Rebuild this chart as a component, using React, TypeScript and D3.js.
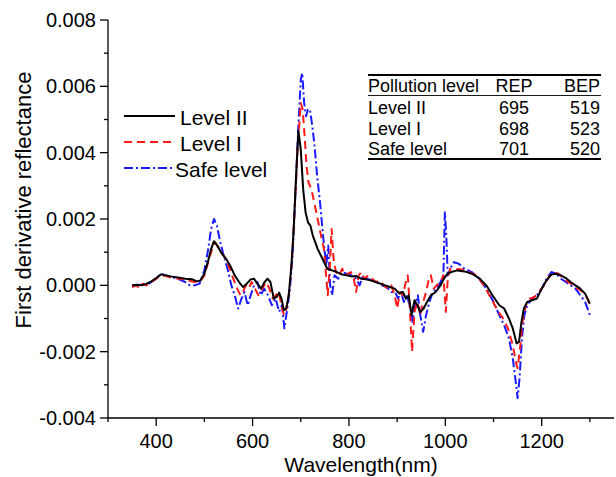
import React from "react";
import * as d3 from "d3";

type Pt = [number, number];

const levelII: Pt[] = [
  [350, 0.0], [360, 0.00002], [370, 0.0], [380, 0.00005], [390, 0.00012], [400, 0.00022], [410, 0.00033], [420, 0.0003],
  [430, 0.00027], [445, 0.00024], [460, 0.0002], [475, 0.00018], [485, 0.00012], [492, 0.00015], [500, 0.00035], [508, 0.00075],
  [514, 0.0011], [520, 0.00133], [527, 0.0012], [535, 0.00098], [545, 0.0008], [555, 0.00055], [563, 0.0003], [572, 0.0001],
  [580, -0.00005], [588, 0.00005], [596, 0.00018], [603, 0.0002], [610, 0.00005], [618, -0.0001], [624, 0.00008], [631, 0.0002],
  [637, 0.0001], [644, -0.0004], [650, -0.00035], [655, -0.00022], [660, -0.0004], [665, -0.00075], [670, -0.0007], [675, -0.0003],
  [680, 0.0005], [685, 0.0016], [690, 0.0032], [695, 0.00467], [700, 0.0041], [705, 0.0029], [710, 0.0022], [715, 0.0019],
  [720, 0.0018], [725, 0.0015], [735, 0.0011], [745, 0.0008], [755, 0.0005], [765, 0.00045], [775, 0.0004], [785, 0.00033],
  [795, 0.0003], [805, 0.00027], [815, 0.00028], [825, 0.0002], [835, 0.00018], [845, 0.00015], [855, 0.0001], [865, 0.00005],
  [875, 0.0], [885, -0.00005], [895, -0.0001], [905, -0.00025], [912, -0.0002], [918, -0.0004], [924, -0.0003], [930, -0.0009],
  [936, -0.00045], [942, -0.0006], [948, -0.0008], [955, -0.0007], [962, -0.0005], [970, -0.0003], [980, -0.0002], [990, 0.0],
  [997, 0.0002], [1005, 0.00035], [1012, 0.0004], [1025, 0.00045], [1040, 0.00042], [1055, 0.00035], [1070, 0.00022], [1085, 0.0],
  [1100, -0.00035], [1112, -0.0006], [1122, -0.0007], [1132, -0.001], [1140, -0.0013], [1148, -0.00175], [1153, -0.0017], [1158, -0.0011],
  [1163, -0.0007], [1170, -0.0005], [1180, -0.00045], [1190, -0.0004], [1200, -0.0001], [1210, 0.00015], [1220, 0.00033], [1230, 0.00035],
  [1240, 0.0003], [1250, 0.00022], [1260, 0.0001], [1270, 0.0], [1280, -0.0001], [1290, -0.00025], [1300, -0.00055],
];

const levelI: Pt[] = [
  [350, -0.00005], [360, 0.0], [365, -0.0001], [372, 0.00005], [380, 0.0], [390, 0.0001], [400, 0.0002], [410, 0.0003],
  [420, 0.00028], [435, 0.00022], [450, 0.0002], [465, 0.00015], [480, 0.0001], [490, 0.0001], [500, 0.0003], [510, 0.0008],
  [518, 0.0012], [523, 0.00128], [530, 0.0011], [540, 0.0009], [550, 0.0006], [560, 0.0002], [568, -0.0001], [575, -0.0003],
  [580, -0.0002], [586, 0.0], [592, -0.0001], [598, 0.0001], [605, -0.0001], [612, -0.0003], [620, -0.0001], [628, 0.0001],
  [635, -0.0001], [642, -0.0004], [648, -0.0003], [654, -0.0002], [660, -0.0006], [665, -0.0009], [670, -0.0007], [676, -0.0002],
  [682, 0.0008], [688, 0.0025], [694, 0.0042], [700, 0.0055], [704, 0.0053], [708, 0.0045], [712, 0.0036], [716, 0.0031],
  [722, 0.0029], [728, 0.0025], [735, 0.002], [742, 0.0015], [748, 0.0011], [752, 0.0004], [756, -0.0003], [760, 0.0005],
  [764, 0.0017], [768, 0.0008], [773, 0.0004], [780, 0.0003], [786, 0.0005], [792, 0.0003], [798, 0.00035], [804, 0.0004],
  [810, 0.0002], [815, -0.0002], [820, 0.0003], [826, 0.0004], [832, 0.0002], [840, 0.0003], [848, 0.0002], [856, 0.0001],
  [864, 0.00015], [872, 0.0], [880, -0.0001], [888, 0.0], [895, -0.0003], [900, -0.0007], [906, -0.0002], [912, -0.0003],
  [918, 0.0001], [922, 0.0003], [926, -0.0006], [931, -0.002], [936, -0.0008], [942, -0.0005], [948, -0.0009], [954, -0.0005],
  [960, -0.0002], [966, 0.0002], [970, 0.0003], [976, -0.0001], [982, 0.0], [990, 0.0001], [996, 0.0003], [1001, -0.0008],
  [1005, 0.0002], [1010, 0.0005], [1020, 0.0005], [1035, 0.00048], [1050, 0.0004], [1065, 0.0003], [1080, 0.0], [1095, -0.0004],
  [1110, -0.0008], [1120, -0.001], [1130, -0.0013], [1140, -0.0018], [1146, -0.0023], [1150, -0.0025], [1155, -0.0019], [1160, -0.0011],
  [1167, -0.0006], [1175, -0.0004], [1185, -0.00035], [1195, -0.0002], [1205, 0.0], [1215, 0.00025], [1225, 0.0004], [1235, 0.00035],
  [1245, 0.0002], [1255, 0.0001], [1265, 0.0], [1275, -0.0001], [1285, -0.0002], [1295, -0.0004], [1300, -0.0006],
];

const safeLevel: Pt[] = [
  [350, -0.00003], [360, 0.0], [370, 0.00002], [380, 0.0], [390, 0.0001], [400, 0.0002], [410, 0.00035], [420, 0.0003],
  [430, 0.00025], [445, 0.0002], [460, 0.0001], [470, 0.0], [480, 0.0], [490, 0.00005], [500, 0.00045], [508, 0.0011],
  [514, 0.0017], [520, 0.002], [526, 0.0018], [533, 0.0013], [540, 0.0009], [548, 0.0005], [556, 0.0], [563, -0.0003],
  [570, -0.0007], [577, -0.0004], [583, -0.0002], [590, -0.0006], [596, -0.0003], [603, 0.0], [610, 0.0001], [617, -0.0003],
  [624, -0.0001], [632, -0.0003], [640, -0.0006], [648, -0.0004], [655, -0.0008], [661, -0.0006], [666, -0.0013], [671, -0.0008],
  [677, -0.0002], [683, 0.0009], [689, 0.0028], [695, 0.0048], [700, 0.0062], [703, 0.0064], [707, 0.0055], [711, 0.0051],
  [715, 0.0053], [719, 0.0053], [723, 0.0049], [728, 0.0043], [734, 0.0033], [740, 0.0025], [745, 0.0017], [749, 0.0011],
  [753, 0.0006], [757, 0.0012], [761, 0.0], [765, -0.0003], [770, 0.0003], [778, 0.0002], [786, 0.0004], [795, 0.00035],
  [805, 0.0003], [815, 0.0002], [822, 0.0], [828, 0.00025], [838, 0.0002], [848, 0.00015], [858, 0.0001], [868, 0.0],
  [878, -0.00005], [888, -0.0002], [896, -0.0002], [902, -0.0004], [908, -0.0002], [914, -0.0005], [920, -0.0003], [926, -0.0006],
  [932, -0.0011], [937, -0.0006], [943, -0.0003], [948, -0.0009], [954, -0.0014], [960, -0.0009], [967, -0.0005], [974, -0.0002],
  [982, -0.0001], [990, 0.0001], [996, 0.0003], [999, 0.0022], [1002, 0.0015], [1005, 0.0003], [1010, 0.0005], [1018, 0.0007],
  [1028, 0.00065], [1040, 0.0005], [1055, 0.0004], [1070, 0.0002], [1085, -0.0001], [1100, -0.0005], [1112, -0.0009], [1122, -0.0012],
  [1132, -0.0016], [1140, -0.0022], [1146, -0.0029], [1150, -0.0034], [1154, -0.0028], [1159, -0.0016], [1164, -0.0009], [1170, -0.0006],
  [1180, -0.0004], [1190, -0.0003], [1200, -0.0001], [1210, 0.0002], [1220, 0.0004], [1230, 0.00035], [1240, 0.0002], [1250, 0.0001],
  [1260, 0.0], [1270, -0.0001], [1280, -0.0003], [1290, -0.0005], [1300, -0.0009],
];

const xMajorTicks = [400, 600, 800, 1000, 1200];
const xMinorTicks = [300, 500, 700, 900, 1100, 1300];
const yMajorTicks = [-0.004, -0.002, 0, 0.002, 0.004, 0.006, 0.008];
const yMinorTicks = [-0.003, -0.001, 0.001, 0.003, 0.005, 0.007];

const seriesNames = ["Level II", "Level I", "Safe level"];
const tableHeader = ["Pollution level", "REP", "BEP"];
const tableLevels = ["Level II", "Level I", "Safe level"];
const tableREP = [695, 698, 701];
const tableBEP = [519, 523, 520];

const FONT = "'Liberation Sans', Arial, Helvetica, sans-serif";

export default function App() {
  const W = 616, H = 477;
  const x = d3.scaleLinear().domain([300, 1350]).range([108, 614]);
  const y = d3.scaleLinear().domain([-0.004, 0.008]).range([418, 20]);
  const line = d3.line<Pt>().x((d) => x(d[0])).y((d) => y(d[1]));

  const styles = [
    { stroke: "#000000", dash: undefined as string | undefined, width: 2 },
    { stroke: "#ff1a1a", dash: "8,5", width: 2 },
    { stroke: "#1a1aff", dash: "9,3,2,3", width: 2 },
  ];
  const data = [levelII, levelI, safeLevel];
  const x0 = x.range()[0];
  const yb = y.range()[0];
  const legendBase = [125, 151, 177];

  return (
    <svg width={W} height={H} style={{ position: "absolute", left: 0, top: 0, background: "#fff" }} fontFamily={FONT}>
      <rect width={W} height={H} fill="#fff" />
      {[2, 1, 0].map((i) => (
        <path key={i} d={line(data[i]) || ""} fill="none" stroke={styles[i].stroke} strokeWidth={styles[i].width}
          strokeDasharray={styles[i].dash} strokeLinejoin="round" />
      ))}
      {/* axes */}
      <line x1={x0} x2={x0} y1={y(0.008)} y2={yb} stroke="#000" strokeWidth={1.3} />
      <line x1={x0} x2={x.range()[1]} y1={yb} y2={yb} stroke="#000" strokeWidth={1.3} />
      {yMajorTicks.map((t) => (
        <g key={"ym" + t}>
          <line x1={x0 - 8} x2={x0} y1={y(t)} y2={y(t)} stroke="#000" strokeWidth={1.3} />
          <text x={x0 - 12} y={y(t)} dy="0.35em" textAnchor="end" fontSize={20}>{d3.format(".3f")(t).replace("−", "-")}</text>
        </g>
      ))}
      {yMinorTicks.map((t) => (
        <line key={"yn" + t} x1={x0 - 4} x2={x0} y1={y(t)} y2={y(t)} stroke="#000" strokeWidth={1.3} />
      ))}
      {xMajorTicks.map((t) => (
        <g key={"xm" + t}>
          <line x1={x(t)} x2={x(t)} y1={yb} y2={yb + 8} stroke="#000" strokeWidth={1.3} />
          <text x={x(t)} y={yb + 30} textAnchor="middle" fontSize={20}>{t}</text>
        </g>
      ))}
      {xMinorTicks.map((t) => (
        <line key={"xn" + t} x1={x(t)} x2={x(t)} y1={yb} y2={yb + 4} stroke="#000" strokeWidth={1.3} />
      ))}
      <text x={361} y={472} textAnchor="middle" fontSize={21}>Wavelength(nm)</text>
      <text transform={`translate(31,200) rotate(-90)`} textAnchor="middle" fontSize={22}>First derivative reflectance</text>

      {/* legend */}
      {seriesNames.map((n, i) => (
        <g key={n} transform={`translate(0,${legendBase[i]})`}>
          <line x1={124} x2={i === 2 ? 174 : 175} y1={-9} y2={-9} stroke={styles[i].stroke} strokeWidth={2} strokeDasharray={styles[i].dash} />
          <text x={i === 2 ? 175 : 180} y={0} fontSize={21}>{n}</text>
        </g>
      ))}

      {/* table */}
      <g fontSize={18}>
        <line x1={368} x2={601} y1={75} y2={75} stroke="#000" strokeWidth={1.8} />
        <text x={368} y={92}>{tableHeader[0]}</text>
        <text x={514} y={92} textAnchor="middle">{tableHeader[1]}</text>
        <text x={600} y={92} textAnchor="end">{tableHeader[2]}</text>
        <line x1={368} x2={601} y1={95.5} y2={95.5} stroke="#000" strokeWidth={0.9} />
        {tableLevels.map((lv, i) => (
          <g key={lv}>
            <text x={368} y={114 + i * 20.5}>{lv}</text>
            <text x={514} y={114 + i * 20.5} textAnchor="middle">{tableREP[i]}</text>
            <text x={600} y={114 + i * 20.5} textAnchor="end">{tableBEP[i]}</text>
          </g>
        ))}
        <line x1={368} x2={601} y1={159} y2={159} stroke="#000" strokeWidth={1.8} />
      </g>
    </svg>
  );
}
